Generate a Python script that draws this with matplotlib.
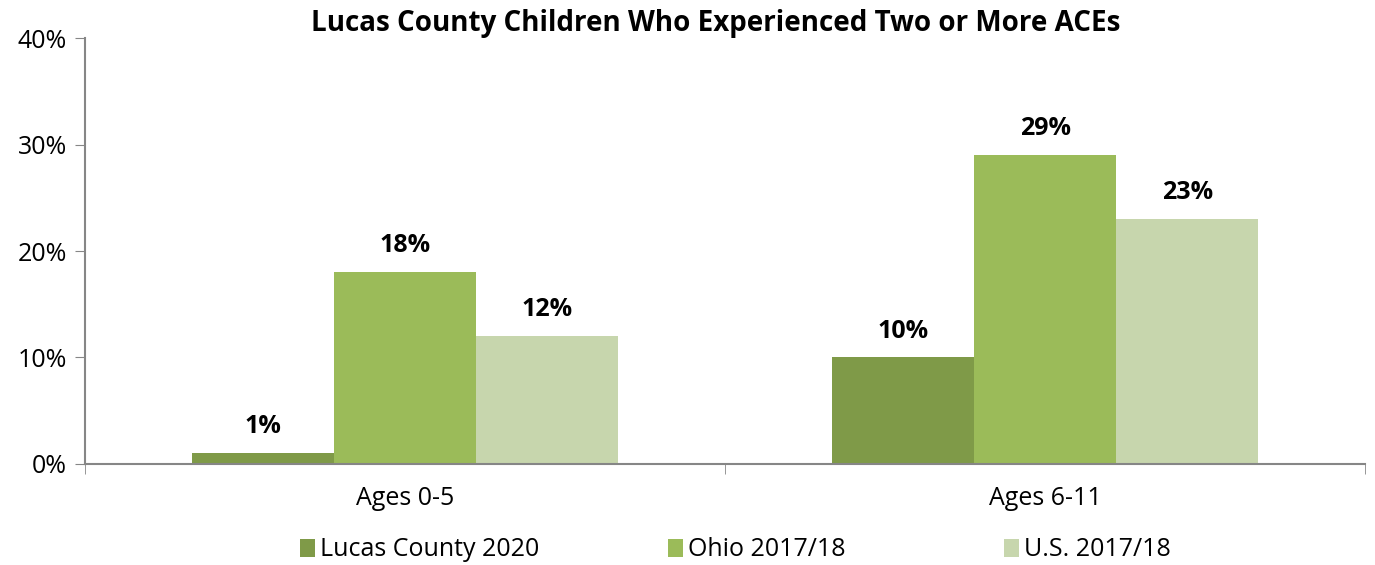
import matplotlib.pyplot as plt
import numpy as np

plt.rcParams['font.family'] = ['Open Sans', 'DejaVu Sans']

categories = ['Ages 0-5', 'Ages 6-11']
series_names = ['Lucas County 2020', 'Ohio 2017/18', 'U.S. 2017/18']
lucas = [1, 10]
ohio = [18, 29]
us = [12, 23]
colors = ['#7F9A48', '#9BBB59', '#C7D6AD']
legend_x = [300, 668, 1004]  # pixel positions of legend entries

fig = plt.figure(figsize=(13.75, 5.65), dpi=100)
ax = fig.add_axes([0.0618, 0.1788, 0.931, 0.7539])

x = np.arange(len(categories))
w = 0.222
handles = []
for i, (vals, name) in enumerate(zip([lucas, ohio, us], series_names)):
    bars = ax.bar(x + (i - 1) * w, vals, w, color=colors[i], label=name)
    handles.append(bars)
    for b, v in zip(bars, vals):
        ax.annotate(f'{v}%', (b.get_x() + b.get_width() / 2, v),
                    xytext=(0, 10), textcoords='offset points',
                    ha='center', va='bottom', fontsize=18, fontweight='bold')

ax.set_xlim(-0.5, 1.5)
ax.set_ylim(0, 40)
ax.set_yticks(range(0, 41, 10))
ax.set_yticklabels([f'{t}%' for t in range(0, 41, 10)], fontsize=18)
ax.set_xticks(x)
ax.set_xticklabels(categories, fontsize=18)
ax.set_xticks([-0.5, 0.5, 1.5], minor=True)
ax.tick_params(axis='x', which='major', length=0, pad=16)
ax.tick_params(axis='x', which='minor', length=7, color='#868686')
ax.tick_params(axis='y', length=7, color='#868686', pad=6)
for s in ['top', 'right']:
    ax.spines[s].set_visible(False)
for s in ['left', 'bottom']:
    ax.spines[s].set_color('#868686')
    ax.spines[s].set_linewidth(1.5)

ax.set_title('Lucas County Children Who Experienced Two or More ACEs',
             fontsize=20, fontweight='bold', pad=0, x=0.493)

for h, name, px in zip(handles, series_names, legend_x):
    leg = fig.legend([h], [name], loc='center left',
                     bbox_to_anchor=(px / 1375, 15 / 565), frameon=False,
                     fontsize=18, handlelength=0.6, handleheight=0.7,
                     handletextpad=0.2, borderpad=0, borderaxespad=0)

fig.savefig('out.png', dpi=100)
